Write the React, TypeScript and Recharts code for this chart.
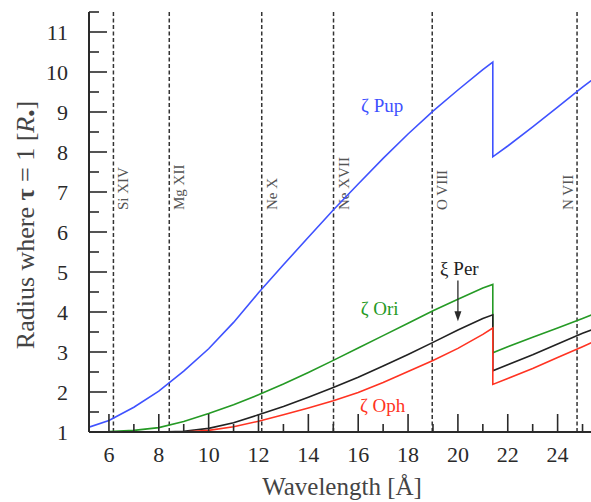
import { LineChart, Line, XAxis, YAxis, ReferenceLine, ReferenceDot, Label } from 'recharts';

const FONT = 'Liberation Serif, DejaVu Serif, serif';
const INK = '#2a2a2a';

// wavelength grid (Å); 21.4 appears twice for the absorption edge jump
const wavelengths = [5.2, 6, 7, 8, 9, 10, 11, 12, 13, 14, 15, 16, 17, 18, 19, 20, 21, 21.4, 21.4, 22, 23, 24, 25, 25.5];
const zetaPup = [1.12, 1.29, 1.62, 2.02, 2.52, 3.08, 3.74, 4.48, 5.18, 5.87, 6.55, 7.2, 7.84, 8.45, 9.02, 9.55, 10.06, 10.25, 7.88, 8.15, 8.63, 9.12, 9.62, 9.86];
const zetaOri = [1.0, 1.01, 1.04, 1.11, 1.26, 1.46, 1.68, 1.93, 2.2, 2.49, 2.79, 3.1, 3.41, 3.72, 4.03, 4.32, 4.6, 4.69, 2.98, 3.13, 3.37, 3.6, 3.84, 3.96];
const xiPer = [1.0, 1.0, 1.0, 1.0, 1.02, 1.09, 1.23, 1.43, 1.64, 1.87, 2.11, 2.37, 2.65, 2.94, 3.24, 3.55, 3.84, 3.93, 2.53, 2.68, 2.93, 3.2, 3.47, 3.58];
const zetaOph = [1.0, 1.0, 1.0, 1.0, 1.0, 1.04, 1.13, 1.27, 1.43, 1.6, 1.78, 1.99, 2.24, 2.51, 2.79, 3.09, 3.44, 3.6, 2.19, 2.34, 2.59, 2.86, 3.13, 3.27];

// ion line wavelengths and names
const ionWaves = [6.18, 8.42, 12.13, 15.01, 18.97, 24.78];
const ionNames = ['Si XIV', 'Mg XII', 'Ne X', 'Ne XVII', 'O VIII', 'N VII'];

const xTicks = [6, 7, 8, 9, 10, 11, 12, 13, 14, 15, 16, 17, 18, 19, 20, 21, 22, 23, 24, 25];
const yTicks = [1, 1.5, 2, 2.5, 3, 3.5, 4, 4.5, 5, 5.5, 6, 6.5, 7, 7.5, 8, 8.5, 9, 9.5, 10, 10.5, 11, 11.5];

const toPoints = (vals: number[]) => wavelengths.map((w, i) => ({ w, r: vals[i] }));

const series = [
  { name: 'ζ Pup', vals: zetaPup, color: '#3f52ff', lx: 16.96, ly: 9.17 },
  { name: 'ζ Ori', vals: zetaOri, color: '#259a25', lx: 16.86, ly: 4.09 },
  { name: 'ξ Per', vals: xiPer, color: '#222222', lx: 20.06, ly: 5.09 },
  { name: 'ζ Oph', vals: zetaOph, color: '#ff3322', lx: 16.98, ly: 1.67 },
];

const txt = { fontFamily: FONT };

function BottomTick(props: any) {
  const { x, y, payload } = props;
  const major = payload.value % 2 === 0;
  return (
    <g>
      <line x1={x} x2={x} y1={y} y2={y - (major ? 18 : 8)} stroke={INK} strokeWidth={1.6} />
      {major && (
        <text x={x} y={y + 30} textAnchor="middle" style={txt} fontSize={22} fill={INK}>
          {payload.value}
        </text>
      )}
    </g>
  );
}

function TopTick(props: any) {
  const { x, y, payload } = props;
  const major = payload.value % 2 === 0;
  return <line x1={x} x2={x} y1={y} y2={y + (major ? 18 : 8)} stroke={INK} strokeWidth={1.6} />;
}

function LeftTick(props: any) {
  const { x, y, payload } = props;
  const major = Number.isInteger(payload.value);
  return (
    <g>
      <line x1={x} x2={x + (major ? 18 : 10)} y1={y} y2={y} stroke={INK} strokeWidth={1.6} />
      {major && payload.value <= 11 && (
        <text x={x - 21} y={y + 7.5} textAnchor="end" style={txt} fontSize={22} fill={INK}>
          {payload.value}
        </text>
      )}
    </g>
  );
}

function RightTick(props: any) {
  const { x, y, payload } = props;
  const major = Number.isInteger(payload.value);
  return <line x1={x} x2={x - (major ? 18 : 10)} y1={y} y2={y} stroke={INK} strokeWidth={1.6} />;
}

function YTitle(props: any) {
  const vb = props.viewBox;
  const cx = 25;
  const cy = vb.y + vb.height / 2 + 3;
  return (
    <text
      x={cx}
      y={cy}
      transform={`rotate(-90 ${cx} ${cy})`}
      textAnchor="middle"
      dominantBaseline="central"
      style={txt}
      fontSize={26}
      fill="#444"
    >
      Radius where <tspan fontWeight="bold">τ</tspan> = 1 [<tspan fontStyle="italic">R</tspan>
      <tspan fontSize={12} dy={6}>●</tspan>
      <tspan dy={-6}>]</tspan>
    </text>
  );
}

function XTitle(props: any) {
  const vb = props.viewBox;
  return (
    <text x={vb.x + vb.width / 2} y={495} textAnchor="middle" style={txt} fontSize={25} fill="#444">
      Wavelength [Å]
    </text>
  );
}

function ionLabel(name: string, left: boolean) {
  return (props: any) => {
    const vb = props.viewBox;
    const cx = vb.x + (left ? -9 : 10);
    const cy = vb.y + 198;
    return (
      <text
        x={cx}
        y={cy}
        transform={`rotate(-90 ${cx} ${cy})`}
        textAnchor="start"
        dominantBaseline="central"
        style={txt}
        fontSize={15}
        fill="#555"
      >
        {name}
      </text>
    );
  };
}

function seriesLabel(text: string, color: string) {
  return (props: any) => (
    <text
      x={props.cx}
      y={props.cy}
      textAnchor="middle"
      dominantBaseline="central"
      style={txt}
      fontSize={19}
      fill={color}
    >
      {text}
    </text>
  );
}

function ArrowHead(props: any) {
  const { cx, cy } = props;
  return <path d={`M${cx - 3.5},${cy - 10} L${cx + 3.5},${cy - 10} L${cx},${cy} Z`} fill={INK} />;
}

export default function App() {
  return (
    <div style={{ position: 'absolute', left: 0, top: 0, width: 591, height: 502, overflow: 'hidden', background: '#fff', fontFamily: FONT }}>
      <LineChart width={600} height={502} margin={{ top: 12, right: 5, bottom: 0, left: 0 }}>
        <XAxis
          xAxisId="bottom"
          dataKey="w"
          type="number"
          domain={[5.2, 25.5]}
          allowDataOverflow
          ticks={xTicks}
          interval={0}
          height={70}
          tickSize={0}
          tickMargin={0}
          tickLine={false}
          tick={<BottomTick />}
          axisLine={{ stroke: INK, strokeWidth: 2 }}
        >
          <Label content={XTitle} />
        </XAxis>
        <XAxis
          xAxisId="top"
          orientation="top"
          dataKey="w"
          type="number"
          domain={[5.2, 25.5]}
          allowDataOverflow
          ticks={xTicks}
          interval={0}
          height={0}
          tickSize={0}
          tickMargin={0}
          tickLine={false}
          tick={<TopTick />}
          axisLine={{ stroke: INK, strokeWidth: 2 }}
        />
        <YAxis
          yAxisId="left"
          type="number"
          domain={[1, 11.5]}
          allowDataOverflow
          ticks={yTicks}
          interval={0}
          width={89}
          tickSize={0}
          tickMargin={0}
          tickLine={false}
          tick={<LeftTick />}
          axisLine={{ stroke: INK, strokeWidth: 2 }}
        >
          <Label content={YTitle} />
        </YAxis>
        <YAxis
          yAxisId="right"
          orientation="right"
          type="number"
          domain={[1, 11.5]}
          allowDataOverflow
          ticks={yTicks}
          interval={0}
          width={0}
          tickSize={0}
          tickMargin={0}
          tickLine={false}
          tick={<RightTick />}
          axisLine={{ stroke: INK, strokeWidth: 2 }}
        />

        {ionWaves.map((w, i) => (
          <ReferenceLine
            key={ionNames[i]}
            x={w}
            xAxisId="bottom"
            yAxisId="left"
            stroke="#333"
            strokeWidth={1.5}
            strokeDasharray="4 2.5"
            label={ionLabel(ionNames[i], i === ionWaves.length - 1)}
          />
        ))}

        {series.map((s) => (
          <Line
            key={s.name}
            xAxisId="bottom"
            yAxisId="left"
            data={toPoints(s.vals)}
            dataKey="r"
            type="linear"
            stroke={s.color}
            strokeWidth={1.6}
            dot={false}
            isAnimationActive={false}
          />
        ))}

        {series.map((s) => (
          <ReferenceDot
            key={'lbl' + s.name}
            xAxisId="bottom"
            yAxisId="left"
            x={s.lx}
            y={s.ly}
            r={0}
            shape={seriesLabel(s.name, s.color)}
          />
        ))}

        <ReferenceLine
          xAxisId="bottom"
          yAxisId="left"
          segment={[{ x: 20, y: 4.79 }, { x: 20, y: 3.95 }]}
          stroke={INK}
          strokeWidth={1.3}
        />
        <ReferenceDot xAxisId="bottom" yAxisId="left" x={20} y={3.77} r={0} shape={ArrowHead} />
      </LineChart>
    </div>
  );
}
